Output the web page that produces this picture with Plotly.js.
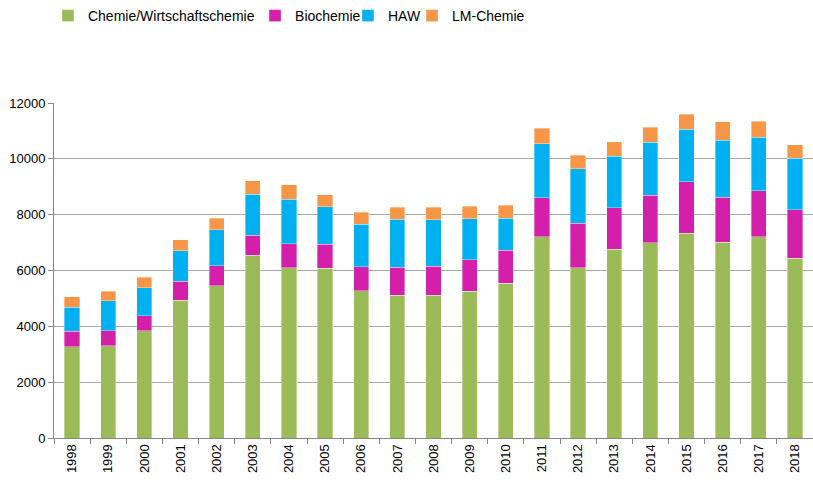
<!DOCTYPE html>
<html><head><meta charset="utf-8">
<script src="https://cdn.plot.ly/plotly-3.0.1.min.js"></script>
<style>html,body{margin:0;padding:0;background:#fff}</style>
</head><body><div id="chart" style="width:813px;height:480px"></div>
<script>
const years = ['1998','1999','2000','2001','2002','2003','2004','2005','2006','2007','2008','2009','2010','2011','2012','2013','2014','2015','2016','2017','2018'];
const chemie = [3260,3300,3840,4930,5460,6540,6090,6080,5280,5110,5110,5250,5550,7210,6090,6760,7000,7340,7020,7210,6440];
const biochemie = [560,540,540,690,710,720,860,860,850,1000,1050,1130,1170,1400,1600,1480,1690,1840,1610,1640,1740];
const haw = [870,1070,1010,1090,1290,1480,1600,1350,1520,1720,1650,1470,1150,1930,1950,1860,1900,1880,2030,1920,1840];
const lmChemie = [370,340,370,390,410,470,520,430,430,430,460,450,460,550,490,510,540,540,660,570,480];

const names = ['Chemie/Wirtschaftschemie','Biochemie','HAW','LM-Chemie'];
const series = [chemie, biochemie, haw, lmChemie];
const colors = ['#9BBB59','#D41FAB','#00B0F0','#F79646'];
const legendIds = ['legend','legend2','legend3','legend4'];
const legendX = [0.059, 0.3137, 0.428, 0.5068];

const traces = series.map((vals,i)=>({
  type:'bar', name:names[i], x:years, y:vals, width:0.42, legend:legendIds[i],
  marker:{color:colors[i], line:{color:'rgba(255,255,255,0.6)', width:0.6}}
}));

const layout = {
  width:813, height:480,
  margin:{l:54, r:0, t:103, b:42},
  barmode:'stack',
  paper_bgcolor:'#fff', plot_bgcolor:'#fff',
  font:{family:'"Liberation Sans", Arial, sans-serif', size:13, color:'#000'},
  showlegend:true,
  xaxis:{type:'category', tickson:'boundaries', ticks:'outside', ticklen:5, tickcolor:'#868686',
         tickangle:-90, showgrid:false, showline:true, linecolor:'#868686', linewidth:1,
         automargin:false, fixedrange:true},
  yaxis:{range:[0,12000], tickvals:[0,2000,4000,6000,8000,10000,12000],
         ticktext:['0','2000','4000','6000','8000','10000','12000'],
         showgrid:true, gridcolor:'#A6A6A6', gridwidth:1, zeroline:false,
         showline:true, linecolor:'#868686', ticks:'outside', ticklen:5, tickcolor:'#868686',
         automargin:false, fixedrange:true}
};
legendIds.forEach((id,i)=>{
  layout[id] = {orientation:'h', xref:'container', yref:'container', x:legendX[i], xanchor:'left',
                y:1.0, yanchor:'top', font:{size:14}, itemwidth:30, bgcolor:'rgba(0,0,0,0)'};
});
Plotly.newPlot('chart', traces, layout, {displayModeBar:false, staticPlot:true});
</script></body></html>
